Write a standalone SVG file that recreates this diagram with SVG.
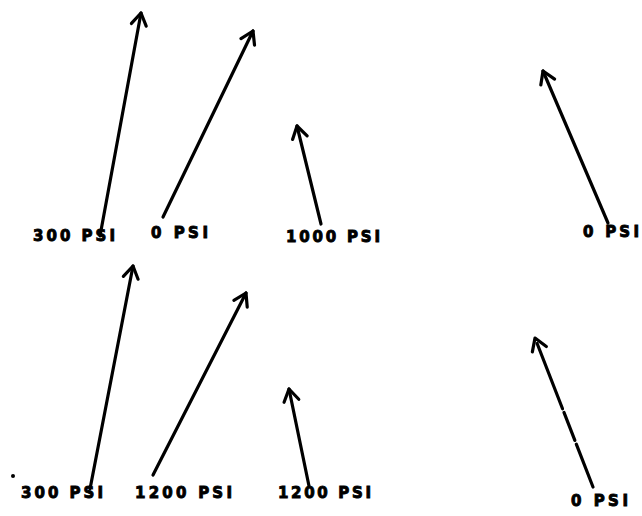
<svg xmlns="http://www.w3.org/2000/svg" width="642" height="516" viewBox="0 0 642 516">
<style>
.lbl{font-family:"DejaVu Sans","Liberation Sans",Arial,sans-serif;font-weight:bold;font-size:15px;fill:#000;stroke:#000;stroke-width:0.9}
.arr{stroke:#000;stroke-width:3.2;fill:none;stroke-linecap:round;marker-end:url(#head)}
</style>
<defs>
<marker id="head" markerUnits="userSpaceOnUse" markerWidth="30" markerHeight="30" refX="0" refY="0" orient="auto" overflow="visible">
<path d="M -12 -7.5 L 0 0 L -12 7.5" stroke="#000" stroke-width="3.2" fill="none" stroke-linecap="round" stroke-linejoin="round"/>
</marker>
</defs>
<rect width="642" height="516" fill="#fff"/>
<g id="connectors">
<line class="arr" x1="100" y1="236" x2="141" y2="13"/>
<line class="arr" x1="163" y1="217" x2="253" y2="31"/>
<line class="arr" x1="321" y1="224" x2="297" y2="126"/>
<line class="arr" x1="608" y1="223" x2="543" y2="71"/>
<line class="arr" x1="90" y1="489" x2="133" y2="266"/>
<line class="arr" x1="153" y1="475" x2="246" y2="293"/>
<line class="arr" x1="309" y1="486" x2="289" y2="389"/>
<line class="arr" x1="593" y1="487" x2="535" y2="338" stroke-dasharray="46 4 30 4 70"/>
</g>
<g id="label-top-1"><text class="lbl" x="33" y="241" textLength="82" lengthAdjust="spacing">300 PSI</text></g>
<g id="label-top-2"><text class="lbl" x="151" y="238" textLength="57" lengthAdjust="spacing">0 PSI</text></g>
<g id="label-top-3"><text class="lbl" x="286" y="242" textLength="94" lengthAdjust="spacing">1000 PSI</text></g>
<g id="label-top-4"><text class="lbl" x="583" y="237" textLength="56" lengthAdjust="spacing">0 PSI</text></g>
<g id="label-bot-1"><text class="lbl" x="21" y="498" textLength="82" lengthAdjust="spacing">300 PSI</text></g>
<g id="label-bot-2"><text class="lbl" x="135" y="498" textLength="97" lengthAdjust="spacing">1200 PSI</text></g>
<g id="label-bot-3"><text class="lbl" x="278" y="498" textLength="93" lengthAdjust="spacing">1200 PSI</text></g>
<g id="label-bot-4"><text class="lbl" x="571" y="506" textLength="57" lengthAdjust="spacing">0 PSI</text></g>
<circle cx="13" cy="476" r="2" fill="#000"/>
</svg>
